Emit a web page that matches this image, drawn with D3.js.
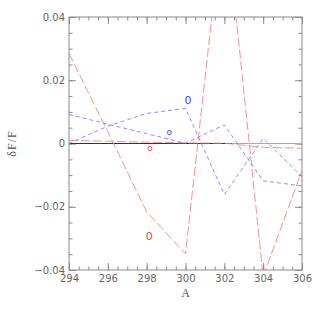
<!DOCTYPE html>
<html><head><meta charset="utf-8">
<script src="https://cdn.jsdelivr.net/npm/d3@7"></script>
<style>body{margin:0;background:#fff}svg{display:block}</style>
</head><body><svg id="c" width="319" height="319"></svg>
<script>
const xValues = [294, 296, 298, 300, 302, 304, 306];
const redA  = [0.0285, 0.0037, -0.0216, -0.0349, 0.0757, -0.042, -0.0085];
const redB  = [0.001, 0.0007, 0.0004, 0.0002, 0.0001, -0.0012, -0.0015];
const blueA = [0.0092, 0.0061, 0.0031, 0.0001, 0.0059, -0.0118, -0.0134];
const blueB = [0, 0.0055, 0.0095, 0.0111, -0.0161, 0.0016, -0.0105];
const zeroBlack = [294, 302.4];
const zeroGray = [302.4, 306];
const xTicks = [294, 296, 298, 300, 302, 304, 306];
const yTicks = [-0.04, -0.02, 0, 0.02, 0.04];
const yTickLabels = ["\u22120.04", "\u22120.02", "0", "0.02", "0.04"];
const labels = [
  {t: "o", x: 298.17, y: -0.0013, c: "red", s: 9},
  {t: "0", x: 298.13, y: -0.0292, c: "red", s: 11},
  {t: "0", x: 300.13, y: 0.0138, c: "blue", s: 11},
  {t: "o", x: 299.16, y: 0.0037, c: "blue", s: 9}
];

const W = 319, H = 319, m = {l: 69, r: 17, t: 17, b: 49};
const svg = d3.select("#c");
const x = d3.scaleLinear().domain([294, 306]).range([m.l, W - m.r]);
const y = d3.scaleLinear().domain([-0.04, 0.04]).range([H - m.b, m.t]);

svg.append("clipPath").attr("id", "clip").append("rect")
  .attr("x", m.l).attr("y", m.t).attr("width", W - m.l - m.r).attr("height", H - m.t - m.b);

const minorX = d3.range(294, 306.001, 0.5);
const minorY = d3.range(-0.04, 0.04001, 0.005);
const axColor = "#8a8a8a";
function styleAxis(g) {
  g.select(".domain").remove();
  g.selectAll("line").attr("stroke", axColor);
  g.selectAll("text").attr("fill", "#666").style("font-family", "DejaVu Sans").style("font-size", "10px");
}
const bottom = H - m.b, right = W - m.r;
svg.append("g").attr("transform", `translate(0,${bottom})`).call(d3.axisBottom(x).tickValues(minorX).tickSize(-3.5).tickFormat("")).call(styleAxis);
svg.append("g").attr("transform", `translate(0,${m.t})`).call(d3.axisTop(x).tickValues(minorX).tickSize(-3.5).tickFormat("")).call(styleAxis);
svg.append("g").attr("transform", `translate(${m.l},0)`).call(d3.axisLeft(y).tickValues(minorY).tickSize(-3.5).tickFormat("")).call(styleAxis);
svg.append("g").attr("transform", `translate(${right},0)`).call(d3.axisRight(y).tickValues(minorY).tickSize(-3.5).tickFormat("")).call(styleAxis);
svg.append("g").attr("transform", `translate(0,${bottom})`).call(d3.axisBottom(x).tickValues(xTicks).tickSize(-7).tickPadding(5).tickFormat(d3.format("d"))).call(styleAxis);
svg.append("g").attr("transform", `translate(0,${m.t})`).call(d3.axisTop(x).tickValues(xTicks).tickSize(-7).tickFormat("")).call(styleAxis);
svg.append("g").attr("transform", `translate(${m.l},0)`).call(d3.axisLeft(y).tickValues(yTicks).tickSize(-7).tickPadding(4).tickFormat((d, i) => yTickLabels[i])).call(styleAxis);
svg.append("g").attr("transform", `translate(${right},0)`).call(d3.axisRight(y).tickValues(yTicks).tickSize(-7).tickFormat("")).call(styleAxis);

svg.append("rect").attr("x", m.l).attr("y", m.t).attr("width", right - m.l).attr("height", bottom - m.t)
  .attr("fill", "none").attr("stroke", axColor).attr("stroke-width", 1);

const plot = svg.append("g").attr("clip-path", "url(#clip)");
const line = d3.line().x(d => x(d[0])).y(d => y(d[1]));
const pts = arr => xValues.map((v, i) => [v, arr[i]]);

plot.append("path").attr("d", line(zeroGray.map(v => [v, 0]))).attr("stroke", "#aaa").attr("stroke-width", 1.2).attr("fill", "none");
plot.append("path").attr("d", line(zeroBlack.map(v => [v, 0]))).attr("stroke", "#333").attr("stroke-width", 1).attr("fill", "none");

const series = [
  {d: redB, c: "#ff8080", dash: "9,3"},
  {d: redA, c: "#ff8080", dash: "9,3"},
  {d: blueA, c: "#8080ff", dash: "4,3"},
  {d: blueB, c: "#8080ff", dash: "4,3"}
];
series.forEach(s => {
  plot.append("path").attr("d", line(pts(s.d))).attr("fill", "none")
    .attr("stroke", s.c).attr("stroke-width", 0.9).attr("stroke-dasharray", s.dash);
});

labels.forEach(l => {
  svg.append("text").attr("x", x(l.x)).attr("y", y(l.y)).attr("text-anchor", "middle").attr("dy", "0.35em")
    .attr("fill", l.c === "red" ? "#ff4040" : "#4040ff")
    .style("font-family", "DejaVu Sans").style("font-size", l.s + "px").text(l.t);
});

svg.append("text").attr("x", x(300)).attr("y", 297).attr("text-anchor", "middle")
  .style("font-family", "Liberation Serif").style("font-size", "12px").attr("fill", "#555").text("A");
svg.append("text").attr("transform", `translate(16,${y(0)}) rotate(-90)`).attr("text-anchor", "middle")
  .style("font-family", "Liberation Serif").style("font-size", "12px").style("letter-spacing", "1px").attr("fill", "#555").text("\u03B4F/F");
</script></body></html>
